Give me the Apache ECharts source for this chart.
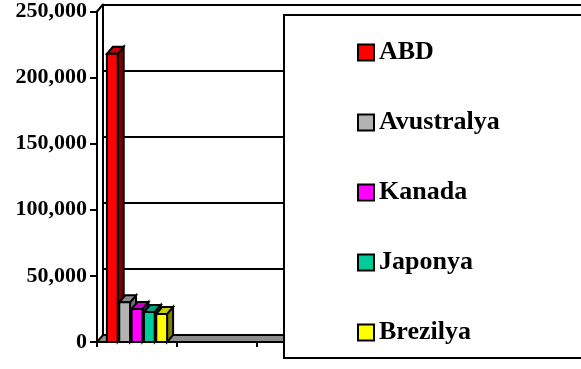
<!DOCTYPE html>
<html>
<head>
<meta charset="utf-8">
<script src="https://cdn.jsdelivr.net/npm/echarts@6/dist/echarts.min.js"></script>
<style>
html,body{margin:0;padding:0;background:#fff;}
#chart{width:581px;height:369px;}
</style>
</head>
<body>
<div id="chart"></div>
<script>
// ---- data ----
const categories = ['Grup 1', 'Grup 2', 'Grup 3', 'Grup 4', 'Grup 5', 'Grup 6'];
const seriesNames = ['ABD', 'Avustralya', 'Kanada', 'Japonya', 'Brezilya'];
const seriesValues = [218000, 30000, 25000, 22700, 21200];
const yTicks = [0, 50000, 100000, 150000, 200000, 250000];

// ---- styles ----
const frontColors = ['#FF0000', '#B3B3B3', '#FF00FF', '#00CC99', '#FFFF00'];
const topColors   = ['#CC0000', '#8A8A8A', '#CC00CC', '#00A37A', '#CCCC00'];
const sideColors  = ['#800000', '#6E6E6E', '#800080', '#00664D', '#808000'];
const DX = 6, DY = 7;
const FONT = '"Liberation Serif", "Times New Roman", serif';

const chart = echarts.init(document.getElementById('chart'), null, {renderer: 'canvas'});

function barRenderer(i) {
  return function (params, api) {
    const cat = api.value(0);
    const v = api.value(1);
    const topPt = api.coord([cat, v]);
    const basePt = api.coord([cat, 0]);
    const step = 12.35, w = 10.8;
    const x0 = topPt[0] + (i - 2) * step - w / 2;
    const x1 = x0 + w;
    const yt = topPt[1], yb = basePt[1];
    const stroke = {stroke: '#000', lineWidth: 2, lineJoin: 'miter'};
    return {
      type: 'group',
      children: [
        {type: 'polygon', shape: {points: [[x1, yt], [x1 + DX, yt - DY], [x1 + DX, yb - DY], [x1, yb]]},
         style: Object.assign({fill: sideColors[i]}, stroke)},
        {type: 'polygon', shape: {points: [[x0, yt], [x0 + DX, yt - DY], [x1 + DX, yt - DY], [x1, yt]]},
         style: Object.assign({fill: topColors[i]}, stroke)},
        {type: 'rect', shape: {x: x0, y: yt, width: w, height: yb - yt},
         style: Object.assign({fill: frontColors[i]}, stroke)}
      ]
    };
  };
}

function floorRenderer(params, api) {
  const cs = params.coordSys;
  const x = cs.x, y = cs.y, w = cs.width, h = cs.height;
  const yb = y + h;
  return {
    type: 'group',
    children: [
      {type: 'polygon', shape: {points: [[x, yb], [x + w, yb], [x + w + DX, yb - DY], [x + DX, yb - DY]]},
       style: {fill: '#8C8C8C', stroke: '#000', lineWidth: 2}},
      {type: 'line', shape: {x1: x, y1: y, x2: x + DX, y2: y - DY},
       style: {stroke: '#000', lineWidth: 2}}
    ]
  };
}

const series = [{
  type: 'custom',
  name: 'floor',
  xAxisIndex: 1, yAxisIndex: 1,
  renderItem: floorRenderer,
  data: [[0, 0]],
  z: 1,
  silent: true
}];
seriesNames.forEach(function (name, i) {
  series.push({
    type: 'custom',
    name: name,
    xAxisIndex: 1, yAxisIndex: 1,
    renderItem: barRenderer(i),
    itemStyle: {color: frontColors[i], borderColor: '#000', borderWidth: 2},
    data: [[0, seriesValues[i]]],
    z: 2,
    silent: true
  });
});

const gridW = 480, gridH = 330.5;
const option = {
  animation: false,
  backgroundColor: '#fff',
  grid: [
    {left: 97 + DX, top: 11.5 - DY, width: gridW, height: gridH},  // back wall
    {left: 97, top: 11.5, width: gridW, height: gridH}              // front plane
  ],
  xAxis: [
    {type: 'category', gridIndex: 0, data: categories, show: false},
    {type: 'category', gridIndex: 1, data: categories,
     axisLine: {lineStyle: {color: '#000', width: 2}},
     axisTick: {show: true, length: 5, lineStyle: {color: '#000', width: 2}},
     axisLabel: {show: false}, splitLine: {show: false}}
  ],
  yAxis: [
    {type: 'value', gridIndex: 0, min: yTicks[0], max: yTicks[yTicks.length - 1], interval: yTicks[1] - yTicks[0],
     axisLine: {show: true, lineStyle: {color: '#000', width: 2}},
     axisTick: {show: false}, axisLabel: {show: false},
     splitLine: {show: true, lineStyle: {color: '#000', width: 2}}},
    {type: 'value', gridIndex: 1, min: yTicks[0], max: yTicks[yTicks.length - 1], interval: yTicks[1] - yTicks[0],
     axisLine: {show: true, lineStyle: {color: '#000', width: 2}},
     axisTick: {show: true, length: 7, lineStyle: {color: '#000', width: 2}},
     axisLabel: {show: true, margin: 10, color: '#000', fontFamily: FONT, fontWeight: 'bold', fontSize: 22,
                 formatter: function (v) { return yTicks.indexOf(v) >= 0 ? v.toLocaleString('en-US') : ''; }},
     splitLine: {show: false}}
  ],
  graphic: [{
    type: 'rect', z: 10,
    shape: {x: 284, y: 15, width: 320, height: 343},
    style: {fill: '#fff', stroke: '#000', lineWidth: 2}
  }],
  legend: {
    orient: 'vertical',
    left: 357, top: 39,
    padding: 0,
    z: 20,
    icon: 'rect',
    itemWidth: 16, itemHeight: 16,
    itemGap: 43,
    selectedMode: false,
    textStyle: {color: '#000', fontFamily: FONT, fontWeight: 'bold', fontSize: 26, lineHeight: 27},
    data: seriesNames.map(function (n, i) {
      return {name: n, itemStyle: {color: frontColors[i], borderColor: '#000', borderWidth: 2}};
    })
  },
  series: series
};
chart.setOption(option);
</script>
</body>
</html>
